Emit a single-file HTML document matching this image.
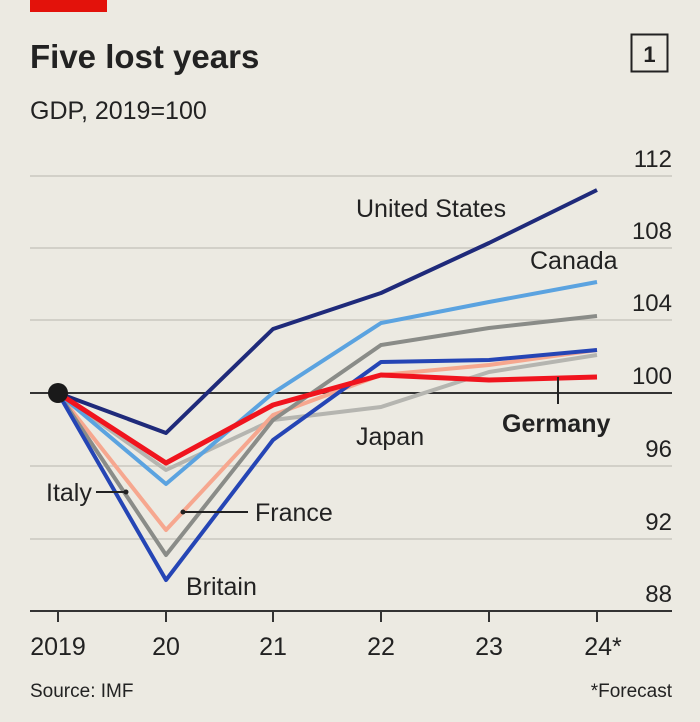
<!DOCTYPE html>
<html><head><meta charset="utf-8"><style>
body{margin:0;background:#eceae2;}
svg{display:block}
text{font-family:"Liberation Sans",sans-serif;fill:#222}
</style></head><body>
<svg width="700" height="722" viewBox="0 0 700 722">
<rect width="700" height="722" fill="#eceae2"/>
<rect x="30" y="0" width="77" height="12" fill="#e3120b"/>
<text x="30" y="68" font-size="33" font-weight="bold" fill="#1a1a1a">Five lost years</text>
<text x="30" y="119" font-size="25">GDP, 2019=100</text>
<rect x="631.5" y="34.5" width="36" height="37" fill="none" stroke="#222" stroke-width="2"/>
<text x="649.5" y="62" font-size="22" text-anchor="middle" font-weight="bold">1</text>
<g stroke="#c9c7bf" stroke-width="1.5">
<line x1="30" y1="176" x2="672" y2="176"/><line x1="30" y1="248" x2="672" y2="248"/>
<line x1="30" y1="320" x2="672" y2="320"/><line x1="30" y1="466" x2="672" y2="466"/>
<line x1="30" y1="539" x2="672" y2="539"/>
</g>
<line x1="30" y1="393" x2="672" y2="393" stroke="#333" stroke-width="2"/>
<line x1="30" y1="611" x2="672" y2="611" stroke="#333" stroke-width="2"/>
<g stroke="#333" stroke-width="2">
<line x1="58" y1="611" x2="58" y2="622"/><line x1="166" y1="611" x2="166" y2="622"/>
<line x1="273" y1="611" x2="273" y2="622"/><line x1="381" y1="611" x2="381" y2="622"/>
<line x1="489" y1="611" x2="489" y2="622"/><line x1="597" y1="611" x2="597" y2="622"/>
</g>
<g font-size="24" text-anchor="end">
<text x="672" y="167">112</text><text x="672" y="239">108</text><text x="672" y="311">104</text>
<text x="672" y="384">100</text><text x="672" y="457">96</text><text x="672" y="530">92</text><text x="672" y="602">88</text>
</g>
<g font-size="25" text-anchor="middle">
<text x="58" y="655">2019</text><text x="166" y="655">20</text><text x="273" y="655">21</text>
<text x="381" y="655">22</text><text x="489" y="655">23</text><text x="603" y="655">24*</text>
</g>
<text x="30" y="697" font-size="19" fill="#777">Source: IMF</text>
<text x="672" y="697" font-size="19" fill="#777" text-anchor="end">*Forecast</text>
<g fill="none" stroke-width="4" stroke-linejoin="round">
<polyline stroke="#b5b5b0" points="58,393 166,470 273,420 381,407 489,372 597,355"/>
<polyline stroke="#f6a78f" points="58,393 166,530 273,415 381,375 489,365 597,350"/>
<polyline stroke="#8a8c88" points="58,393 166,555 273,420 381,345 489,328 597,316"/>
<polyline stroke="#2545b5" points="58,393 166,580 273,440 381,362 489,360 597,350"/>
<polyline stroke="#5ba3e0" points="58,393 166,484 273,393 381,323 489,302 597,282"/>
<polyline stroke="#1f2a7a" points="58,393 166,433 273,329 381,293 489,243 597,190"/>
<polyline stroke="#f0141e" stroke-width="5" points="58,393 166,463 273,405 381,375 489,380 597,377"/>
</g>
<circle cx="58" cy="393" r="10" fill="#1a1a1a"/>
<g stroke="#222" stroke-width="2">
<line x1="558" y1="377" x2="558" y2="404"/>
<line x1="96" y1="492" x2="126" y2="492"/>
<line x1="183" y1="512" x2="248" y2="512"/>
</g>
<circle cx="126" cy="492" r="2.5" fill="#222"/><circle cx="183" cy="512" r="2.5" fill="#222"/>
<g font-size="25">
<text x="356" y="217">United States</text>
<text x="530" y="269">Canada</text>
<text x="356" y="445">Japan</text>
<text x="502" y="432" font-weight="bold">Germany</text>
<text x="46" y="501">Italy</text>
<text x="255" y="521">France</text>
<text x="186" y="595">Britain</text>
</g>
</svg>
</body></html>
